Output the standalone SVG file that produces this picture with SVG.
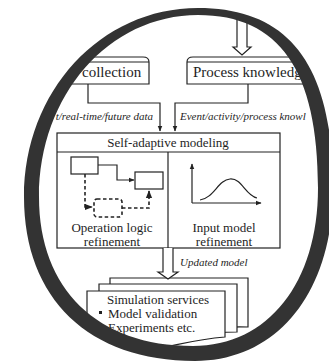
<svg xmlns="http://www.w3.org/2000/svg" width="329" height="362" viewBox="0 0 329 362">
<defs>
<style>
.t{font-family:"Liberation Serif","Times New Roman",serif;font-size:13px;fill:#1e1e1e}
.big{font-size:15px}
.c{text-anchor:middle}
.i{font-style:italic;font-size:11px}
.ln{fill:none;stroke:#222;stroke-width:1.2}
.bx{fill:#fff;stroke:#222;stroke-width:1.2}
.d{fill:none;stroke:#222;stroke-width:1.6;stroke-dasharray:3.5 2.5}
</style>
<marker id="ah" viewBox="0 0 10 10" refX="9" refY="5" markerWidth="5" markerHeight="5" orient="auto"><path d="M0,1 L10,5 L0,9 z" fill="#222"/></marker>
<clipPath id="lens"><path d="M198,14 C279.6,14 319,70.4 319,188 C319,282.8 268,347 193,347 C97.5,347 38,289.4 38,197 C38,95.1 109,14 198,14 Z"/></clipPath>
</defs>
<rect width="329" height="362" fill="#fff"/>
<g clip-path="url(#lens)">
<g id="top-arrow"><path class="bx" d="M237,5 V47 H233 L242,55 L251,47 H247 V5 Z"/></g>
<g id="collection">
<path class="bx" d="M149,84 V62 Q149,57 143,57 H10 V84 Z"/>
<path class="ln" d="M149,62 H10"/>
<text class="t big" x="82" y="77">collection</text>
</g>
<g id="process-knowledge">
<path class="bx" d="M187,84 V62 Q187,57 193,57 H340 V84 Z"/>
<path class="ln" d="M187,62 H340"/>
<text class="t big" x="193" y="77">Process knowledg</text>
</g>
<g id="self-adaptive">
<rect class="bx" x="57" y="133" width="223" height="115"/>
<path class="ln" d="M57,152 H280 M168,152 V248"/>
<text class="t c" x="168" y="147">Self-adaptive modeling</text>
<rect class="bx" x="71" y="157" width="27" height="17"/>
<rect class="bx" x="135" y="172" width="28" height="17"/>
<rect class="d" x="94" y="199" width="28" height="18" rx="3"/>
<path class="ln" d="M98,165 H117 V180 H134" marker-end="url(#ah)"/>
<path class="d" d="M85,174 V207 H92" marker-end="url(#ah)"/>
<path class="d" d="M122,208 H149 V191" marker-end="url(#ah)"/>
<path class="ln" d="M192,203 V164" marker-end="url(#ah)"/>
<path class="ln" d="M192,203 H261" marker-end="url(#ah)"/>
<path class="ln" d="M200,200 C214,198 218,180 230,179 C242,178 245,195 257,198" stroke-width="1.5"/>
<text class="t c" x="112" y="232">Operation logic</text>
<text class="t c" x="112" y="246">refinement</text>
<text class="t c" x="224" y="232">Input model</text>
<text class="t c" x="224" y="246">refinement</text>
</g>
<g id="simulation-services">
<path class="bx" d="M110,278 H248 V327 C220,326 200,330 180,334 L110,334 Z"/>
<path class="bx" d="M99,284 H237 V332 C210,332 190,337 170,340 L99,340 Z"/>
<path class="bx" d="M87,291 H225 V337 C200,339 185,343 165,347 C130,353 110,341 87,339 Z"/>
<text class="t c" x="158" y="304">Simulation services</text>
<rect x="99" y="311" width="3" height="3" fill="#222"/>
<text class="t" x="108" y="318">Model validation</text>
<text class="t" x="108" y="332">Experiments etc.</text>
</g>
<g id="connectors">
<path class="ln" d="M88,84 V103 H160 V131" marker-end="url(#ah)"/>
<path class="ln" d="M248,84 V103 H175 V131" marker-end="url(#ah)"/>
<text class="t i" x="153" y="120" text-anchor="end">t/real-time/future data</text>
<text class="t i" x="180" y="120">Event/activity/process knowl</text>
<path class="bx" d="M163,248 V272 H158 L168,279 L178,272 H173 V248"/>
<text class="t i" x="180" y="266">Updated model</text>
</g>
</g>
<path id="ring" fill="#333" fill-rule="evenodd" d="M198,8 C289.8,8 333,65.6 333,188 C333,291.8 277.8,361 195,361 C89,361 24,298.7 24,197 C24,91.2 100.6,8 198,8 Z M198,15 C279.6,15 318,70.4 318,188 C318,282.8 268,346 193,346 C97.5,346 39,289.4 39,197 C39,95.1 109,15 198,15 Z"/>
</svg>
